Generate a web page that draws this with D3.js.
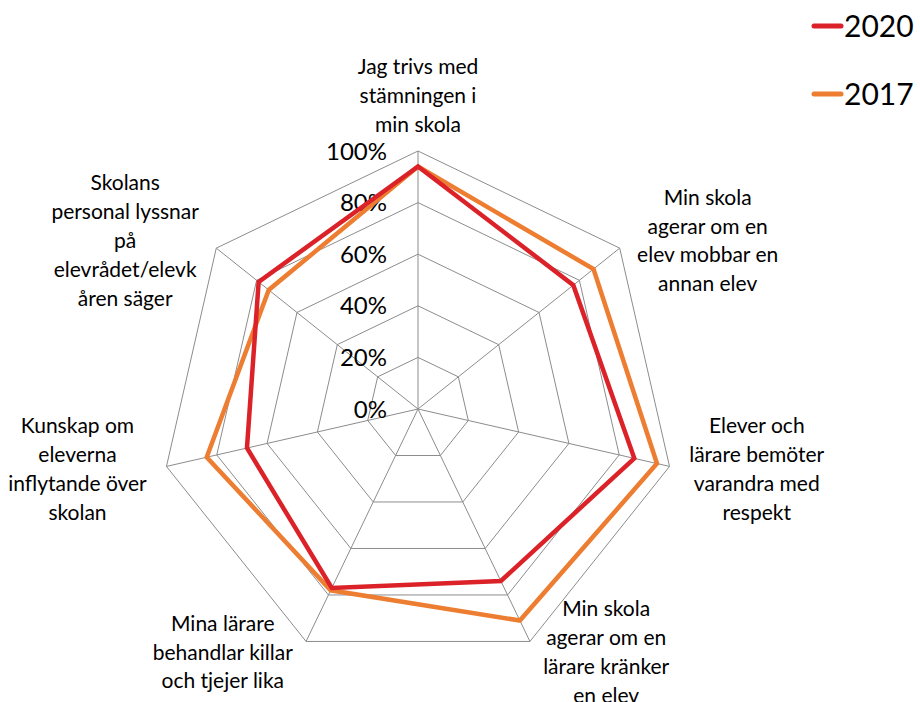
<!DOCTYPE html>
<html>
<head>
<meta charset="utf-8">
<script src="https://cdn.jsdelivr.net/npm/d3@7"></script>
<style>
body { margin: 0; background: #fff; }
svg text { font-family: Lato, "Open Sans", sans-serif; fill: #000; }
</style>
</head>
<body>
<div id="chart"></div>
<script>
// data
var categories = [
	["Jag trivs med", "stämningen i", "min skola"],
	["Min skola", "agerar om en", "elev mobbar en", "annan elev"],
	["Elever och", "lärare bemöter", "varandra med", "respekt"],
	["Min skola", "agerar om en", "lärare kränker", "en elev"],
	["Mina lärare", "behandlar killar", "och tjejer lika"],
	["Kunskap om", "eleverna", "inflytande över", "skolan"],
	["Skolans", "personal lyssnar", "på", "elevrådet/elevk", "åren säger"]
];
var values2020 = [0.94, 0.77, 0.86, 0.74, 0.77, 0.68, 0.79];
var values2017 = [0.94, 0.87, 0.95, 0.91, 0.78, 0.84, 0.74];
var ticks = [0, 0.2, 0.4, 0.6, 0.8, 1];
var seriesNames = ["2020", "2017"];
var seriesColors = ["#DC2229", "#ED7D31"];

var svgWidth = 920, svgHeight = 702;
var cx = 418, cy = 409, radius = 258;

var svg = d3.select("#chart").append("svg")
	.attr("width", svgWidth)
	.attr("height", svgHeight);

var g = svg.append("g").attr("transform", `translate(${cx},${cy})`);

var n = categories.length;
var angle = d3.scaleLinear().domain([0, n]).range([0, 2 * Math.PI]);
var r = d3.scaleLinear().domain([0, 1]).range([0, radius]);

function px(i, v) { return r(v) * Math.sin(angle(i)); }
function py(i, v) { return -r(v) * Math.cos(angle(i)); }

// grid rings
ticks.filter(t => t > 0).forEach(function(t) {
	var pts = d3.range(n).map(i => [px(i, t), py(i, t)]);
	g.append("path")
		.attr("d", d3.line().curve(d3.curveLinearClosed)(pts))
		.attr("fill", "none")
		.attr("stroke", "#8c8c8c")
		.attr("stroke-width", 1);
});

// spokes
g.selectAll(".spoke")
	.data(d3.range(n))
	.enter()
	.append("line")
	.attr("x1", 0).attr("y1", 0)
	.attr("x2", i => px(i, 1))
	.attr("y2", i => py(i, 1))
	.attr("stroke", "#8c8c8c")
	.attr("stroke-width", 1);

// tick labels
g.selectAll(".tick")
	.data(ticks)
	.enter()
	.append("text")
	.attr("x", -31)
	.attr("y", d => -r(d))
	.attr("dy", "0.36em")
	.attr("text-anchor", "end")
	.style("font-size", "24px")
	.text(d => d3.format(".0%")(d));

// series
var line = d3.lineRadial()
	.angle((d, i) => angle(i))
	.radius(d => r(d))
	.curve(d3.curveLinearClosed);

[values2017, values2020].forEach(function(vals, k) {
	var idx = k === 0 ? 1 : 0;
	g.append("path")
		.attr("d", line(vals))
		.attr("fill", "none")
		.attr("stroke", seriesColors[idx])
		.attr("stroke-width", 4.5)
		.attr("stroke-linejoin", "miter");
});

// category labels
var lineH = 28.8;
categories.forEach(function(lines, i) {
	var a = angle(i);
	var dx = Math.sin(a), dy = -Math.cos(a);
	var ax = (radius + 12) * dx, ay = (radius + 12) * dy;
	var t = g.append("text")
		.attr("text-anchor", "middle")
		.style("font-size", "21px");
	lines.forEach(function(s, j) {
		t.append("tspan").attr("x", 0).attr("dy", j === 0 ? 0 : lineH).text(s);
	});
	var w = d3.max(t.selectAll("tspan").nodes(), nd => nd.getComputedTextLength());
	var h = lines.length * lineH;
	var bx = ax, by = ay;
	if (Math.abs(dx) > 0.1) {
		bx = ax + Math.sign(dx) * (w / 2 + 8);
	} else {
		by = ay + dy * h / 2;
	}
	t.attr("transform", `translate(${bx},${by - h / 2 + lineH / 2})`);
	t.selectAll("tspan").filter((d, j) => j === 0).attr("dy", "0.35em");
});

// legend
var legend = svg.append("g");
seriesNames.forEach(function(name, i) {
	var y = 26 + i * 68;
	legend.append("line")
		.attr("x1", 814).attr("x2", 841)
		.attr("y1", y).attr("y2", y)
		.attr("stroke", seriesColors[i])
		.attr("stroke-width", 5)
		.attr("stroke-linecap", "round");
	legend.append("text")
		.attr("x", 844)
		.attr("y", y)
		.attr("dy", "0.36em")
		.style("font-size", "30px")
		.text(name);
});
</script>
</body>
</html>
